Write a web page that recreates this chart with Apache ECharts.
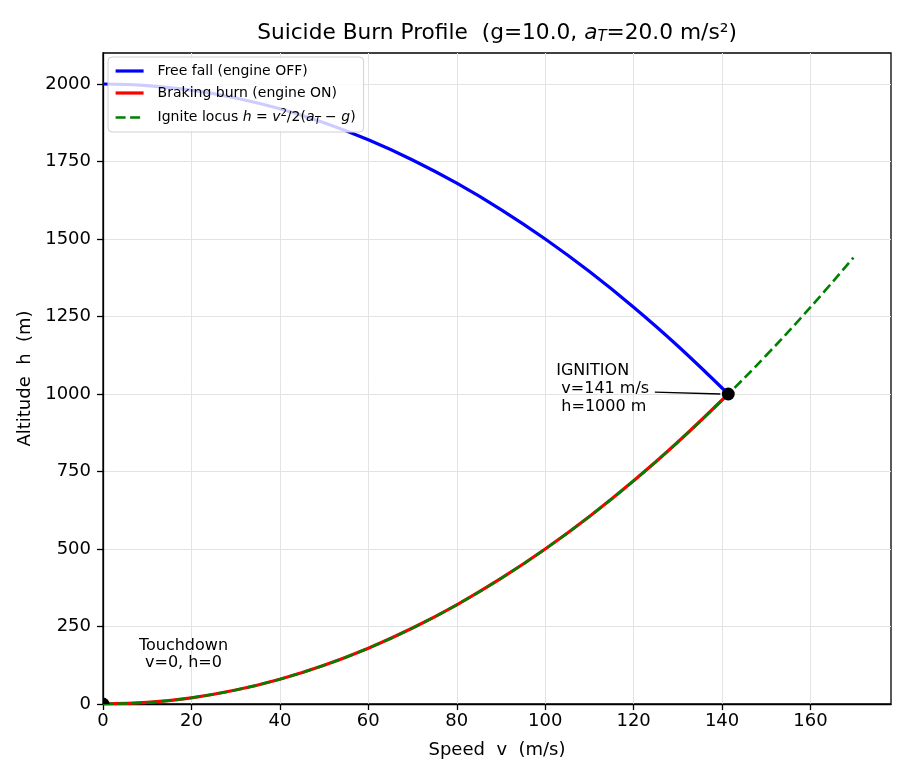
<!DOCTYPE html>
<html>
<head>
<meta charset="utf-8">
<script src="https://cdn.jsdelivr.net/npm/echarts@6/dist/echarts.min.js"></script>
<style>
html,body{margin:0;padding:0;background:#fff;}
#chart{width:910px;height:780px;}
</style>
</head>
<body>
<div id="chart"></div>
<script>
// Speeds (m/s) sampled along the curves
const speedFall = [0, 10, 20, 30, 40, 50, 60, 70, 80, 90, 100, 110, 120, 130, 141.4];
// Free fall altitude (m), engine OFF
const altFall = [2000, 1995, 1980, 1955, 1920, 1875, 1820, 1755, 1680, 1595, 1500, 1395, 1280, 1155, 1000];
// Braking burn altitude (m), engine ON
const speedBurn = [0, 10, 20, 30, 40, 50, 60, 70, 80, 90, 100, 110, 120, 130, 141.4];
const altBurn = [0, 5, 20, 45, 80, 125, 180, 245, 320, 405, 500, 605, 720, 845, 1000];
// Ignite locus
const speedLocus = [0, 10, 20, 30, 40, 50, 60, 70, 80, 90, 100, 110, 120, 130, 140, 150, 160, 169.7];
const altLocus = [0, 5, 20, 45, 80, 125, 180, 245, 320, 405, 500, 605, 720, 845, 980, 1125, 1280, 1440];
// Key points
const keyPoints = [[141.4, 1000], [0, 0]];
const xTicks = [0, 20, 40, 60, 80, 100, 120, 140, 160];
const yTicks = [0, 250, 500, 750, 1000, 1250, 1500, 1750, 2000];
const seriesNames = ['Free fall (engine OFF)', 'Braking burn (engine ON)', 'Ignite locus'];

const FONT = '"DejaVu Sans", "Liberation Sans", sans-serif';
const zip = (a, b) => a.map((v, i) => [v, b[i]]);

const chart = echarts.init(document.getElementById('chart'), null, {renderer: 'canvas'});

const option = {
  animation: false,
  backgroundColor: '#ffffff',
  textStyle: {fontFamily: FONT, color: '#000'},
  grid: {left: 103, right: 19, top: 53, bottom: 76, show: true, borderColor: '#000', borderWidth: 1.3, backgroundColor: 'transparent'},
  graphic: [{
    type: 'text', x: 497, y: 33, z: 10,
    style: {
      text: 'Suicide Burn Profile  (g=10.0, {it|a}{sub|T}=20.0 m/s²)',
      fontSize: 21.7, fontFamily: FONT, fill: '#000', align: 'center', verticalAlign: 'middle',
      rich: {
        it: {fontSize: 21.7, fontFamily: FONT, fontStyle: 'italic', fill: '#000'},
        sub: {fontSize: 15, fontFamily: FONT, fontStyle: 'italic', fill: '#000', padding: [9, 0, 0, 0]}
      }
    }
  }],
  legend: {
    data: [
      {name: seriesNames[0], lineStyle: {width: 3.2}},
      {name: seriesNames[1], lineStyle: {width: 3.2}},
      {name: seriesNames[2], lineStyle: {width: 2.6}}
    ],
    orient: 'vertical',
    left: 108, top: 57,
    padding: [7, 8, 6, 6],
    itemWidth: 28, itemHeight: 12, itemGap: 8,
    itemStyle: {opacity: 0},
    lineStyle: {opacity: 1},
    backgroundColor: 'rgba(255,255,255,0.8)',
    borderColor: '#d0d0d0', borderWidth: 1, borderRadius: 4,
    textStyle: {fontSize: 14, fontFamily: FONT, color: '#000', padding: [0, 0, 0, 9],
      rich: {
        n: {fontSize: 14, fontFamily: FONT},
        it: {fontSize: 14, fontFamily: FONT, fontStyle: 'italic'},
        sup: {fontSize: 10, fontFamily: FONT, padding: [0, 0, 9, 0]},
        sub: {fontSize: 10, fontFamily: FONT, fontStyle: 'italic', padding: [7, 0, 0, 0]}
      }
    },
    formatter: function (name) {
      if (name === 'Ignite locus') {
        return '{n|Ignite locus }{it|h} = {it|v}{sup|2}/2({it|a}{sub|T} − {it|g})';
      }
      return name;
    },
    selectedMode: false
  },
  xAxis: {
    type: 'value', min: 0, max: 178.2, interval: 20,
    name: 'Speed  v  (m/s)', nameLocation: 'middle', nameGap: 37,
    nameTextStyle: {fontSize: 18, fontFamily: FONT, color: '#000'},
    axisLine: {show: true, onZero: false, lineStyle: {color: '#000', width: 1.3}},
    axisTick: {show: true, length: 6, lineStyle: {color: '#000', width: 1.3}, customValues: xTicks},
    axisLabel: {fontSize: 18, fontFamily: FONT, color: '#000', margin: 8, customValues: xTicks, formatter: v => String(v)},
    splitLine: {show: true, lineStyle: {color: '#e3e3e3', width: 1}}
  },
  yAxis: {
    type: 'value', min: 0, max: 2100, interval: 250,
    name: 'Altitude  h  (m)', nameLocation: 'middle', nameGap: 62, nameRotate: 90,
    nameTextStyle: {fontSize: 18, fontFamily: FONT, color: '#000'},
    axisLine: {show: true, onZero: false, lineStyle: {color: '#000', width: 1.3}},
    axisTick: {show: true, length: 6, lineStyle: {color: '#000', width: 1.3}, customValues: yTicks},
    axisLabel: {fontSize: 18, fontFamily: FONT, color: '#000', margin: 12, customValues: yTicks, formatter: v => String(v)},
    splitLine: {show: true, lineStyle: {color: '#e3e3e3', width: 1}}
  },
  series: [
    {
      name: seriesNames[0], type: 'line', data: zip(speedFall, altFall),
      symbol: 'none', smooth: 0.4,
      color: '#0000ff', lineStyle: {color: '#0000ff', width: 3.2}, z: 3,
      emphasis: {disabled: true}, silent: true,
      markLine: {
        silent: true, symbol: ['none', 'arrow'], symbolSize: [0, 12],
        label: {show: false},
        lineStyle: {color: '#000', width: 1.4, type: 'solid'},
        data: [[{coord: [124.8, 1006]}, {coord: [139.6, 1000]}]]
      }
    },
    {
      name: seriesNames[1], type: 'line', data: zip(speedBurn, altBurn),
      symbol: 'none', smooth: 0.4,
      color: '#ff0000', lineStyle: {color: '#ff0000', width: 3.2}, z: 3,
      emphasis: {disabled: true}, silent: true,
      markPoint: {
        silent: true, symbol: 'circle', symbolSize: 0,
        data: [
          {coord: [102.5, 1016], value: 0,
           label: {show: true, position: 'inside', align: 'left', verticalAlign: 'middle',
             formatter: 'IGNITION\n v=141 m/s\n h=1000 m', fontSize: 16, lineHeight: 18, fontFamily: FONT, color: '#000'}},
          {coord: [18.2, 161], value: 0,
           label: {show: true, position: 'inside', align: 'center', verticalAlign: 'middle',
             formatter: 'Touchdown\nv=0, h=0', fontSize: 16, lineHeight: 17, fontFamily: FONT, color: '#000'}}
        ]
      }
    },
    {
      name: seriesNames[2], type: 'line', data: zip(speedLocus, altLocus),
      symbol: 'none', smooth: 0.4,
      color: '#008000', lineStyle: {color: '#008000', width: 2.6, type: [10, 4.5]}, z: 4,
      emphasis: {disabled: true}, silent: true
    },
    {
      name: 'points', type: 'custom', clip: true, z: 5, silent: true,
      data: keyPoints,
      renderItem: function (params, api) {
        const p = api.coord([api.value(0), api.value(1)]);
        return {type: 'circle', shape: {cx: p[0], cy: p[1], r: 6.5}, style: {fill: '#000'}};
      }
    }
  ]
};
chart.setOption(option);
</script>
</body>
</html>
